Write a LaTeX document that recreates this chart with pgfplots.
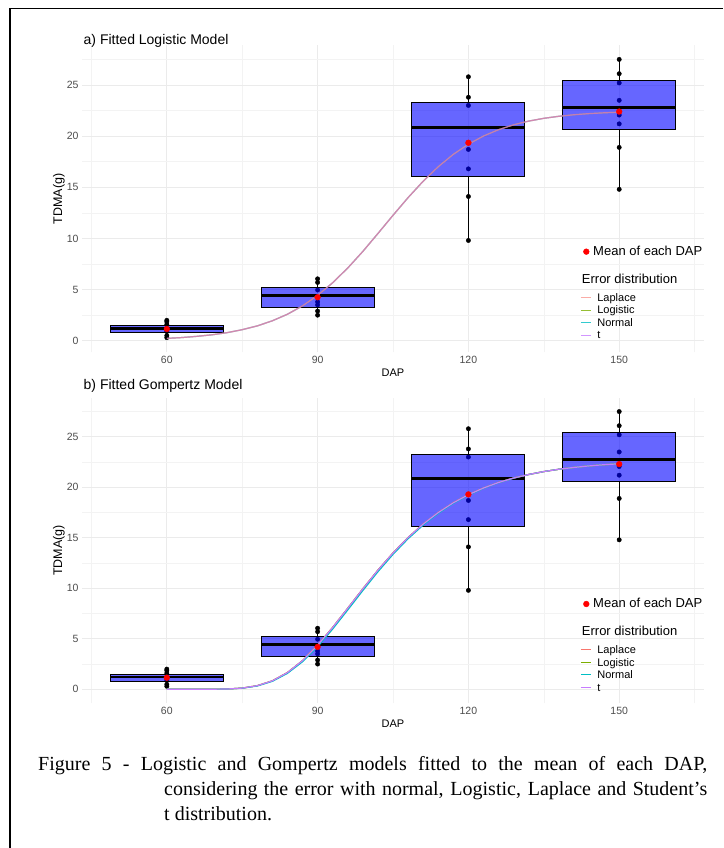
\documentclass[border=0pt]{standalone}
\usepackage{fontspec}
\setmainfont{Liberation Sans}
\newfontfamily\capfont{Liberation Serif}
\usepackage{pgfplots}
\pgfplotsset{compat=1.18}
\definecolor{tickgray}{HTML}{4D4D4D}
\definecolor{cLaplace}{HTML}{F8766D}
\definecolor{cLogistic}{HTML}{7CAE00}
\definecolor{cNormal}{HTML}{00BFC4}
\definecolor{ct}{HTML}{C77CFF}
\definecolor{gridmajor}{HTML}{EBEBEB}
\definecolor{gridminor}{HTML}{F3F3F3}

% fitted logistic curve (panel a)
\pgfplotstableread{
x y
60 0.23
63 0.31
66 0.43
69 0.58
72 0.79
75 1.08
78 1.45
81 1.95
84 2.59
87 3.41
90 4.43
93 5.67
96 7.11
99 8.73
102 10.48
105 12.26
108 13.99
111 15.59
114 17.01
117 18.22
120 19.21
123 20.01
126 20.63
129 21.11
132 21.47
135 21.74
138 21.94
141 22.09
144 22.20
147 22.28
150 22.34
}\logfit

% fitted Gompertz curve (panel b)
\pgfplotstableread{
x y
60 0.00
63 0.00
66 0.00
69 0.01
72 0.03
75 0.12
78 0.36
81 0.84
84 1.66
87 2.84
90 4.36
93 6.13
96 8.03
99 9.95
102 11.80
105 13.50
108 15.03
111 16.36
114 17.50
117 18.47
120 19.27
123 19.93
126 20.48
129 20.92
132 21.27
135 21.56
138 21.79
141 21.97
144 22.12
147 22.24
150 22.33
}\gompfit

% Gompertz curve, normal errors (slightly lower)
\pgfplotstableread{
x y
60 0.00
63 0.00
66 0.00
69 0.01
72 0.03
75 0.11
78 0.33
81 0.79
84 1.58
87 2.73
90 4.22
93 5.97
96 7.86
99 9.78
102 11.64
105 13.36
108 14.91
111 16.26
114 17.42
117 18.41
120 19.22
123 19.90
126 20.46
129 20.91
132 21.27
135 21.56
138 21.79
141 21.97
144 22.12
147 22.24
150 22.33
}\gompfitn

\pgfplotsset{
  panel/.style={
    scale only axis, width=622pt,
    xmin=43.125, xmax=166.875,
    xtick={60,90,120,150}, minor xtick={45,75,105,135,165},
    ytick={0,5,10,15,20,25}, minor ytick={2.5,7.5,12.5,17.5,22.5,27.5},
    xmajorgrids, ymajorgrids, xminorgrids, yminorgrids,
    major grid style={draw=gridmajor, line width=0.8pt},
    minor grid style={draw=gridminor, line width=0.5pt},
    axis line style={draw=none},
    major tick length=0pt, minor tick length=0pt,
    tick label style={font=\fontsize{10.5}{12}\selectfont, text=tickgray},
    /pgf/number format/assume math mode=true,
    clip marker paths=true,
  },
  labs/.style={
    xlabel={DAP}, ylabel={TDMA(g)},
    every axis x label/.style={at={(axis description cs:0.5,-0.067)}, anchor=center, font=\fontsize{11}{13}\selectfont},
    every axis y label/.style={at={(axis description cs:-0.037,0.5)}, rotate=90, anchor=center, font=\fontsize{12.5}{14}\selectfont},
    legend style={draw=none, fill=none, inner sep=0pt, font=\fontsize{11}{12}\selectfont, column sep=5pt, row sep=0pt, nodes={inner sep=1pt}},
    legend cell align=left,
    legend image code/.code={\draw[##1] (0pt,0pt) -- (10pt,0pt);},
  },
  meanlegend/.style={
    hide axis,
    legend style={draw=none, fill=none, inner sep=0pt, font=\fontsize{13}{15}\selectfont, column sep=4pt, nodes={inner sep=0pt}},
    legend image code/.code={\draw[##1] plot coordinates {(0pt,0pt)};},
  },
  bx/.style={forget plot, draw=black, line width=1pt, fill=blue, fill opacity=0.6},
  wk/.style={forget plot, black, line width=1.1pt},
  md/.style={forget plot, black, line width=2.6pt},
  pts/.style={forget plot, only marks, mark=*, mark size=2.2pt, black},
  fitline/.style={line width=1.2pt},
}

\newcommand{\drawdata}{%
  \addplot[pts] coordinates {(60,0.3) (60,0.5) (60,0.9) (60,1.2) (60,1.6) (60,1.85) (60,2.0)
    (90,2.5) (90,2.9) (90,3.5) (90,3.8) (90,4.96) (90,5.7) (90,6.05)
    (120,9.8) (120,14.1) (120,16.8) (120,18.7) (120,23.0) (120,23.8) (120,25.8)
    (150,14.8) (150,18.9) (150,21.2) (150,22.06) (150,23.5) (150,25.2) (150,26.1) (150,27.5)};
  % DAP 60
  \addplot[wk] coordinates {(60,0.3) (60,0.82)};
  \addplot[wk] coordinates {(60,1.48) (60,2.0)};
  \addplot[bx] coordinates {(48.75,0.82) (71.25,0.82) (71.25,1.48) (48.75,1.48)} --cycle;
  \addplot[md] coordinates {(48.75,1.2) (71.25,1.2)};
  % DAP 90
  \addplot[wk] coordinates {(90,2.5) (90,3.28)};
  \addplot[wk] coordinates {(90,5.2) (90,6.05)};
  \addplot[bx] coordinates {(78.75,3.28) (101.25,3.28) (101.25,5.2) (78.75,5.2)} --cycle;
  \addplot[md] coordinates {(78.75,4.42) (101.25,4.42)};
  % DAP 120
  \addplot[wk] coordinates {(120,9.8) (120,16.1)};
  \addplot[wk] coordinates {(120,23.26) (120,25.8)};
  \addplot[bx] coordinates {(108.75,16.1) (131.25,16.1) (131.25,23.26) (108.75,23.26)} --cycle;
  \addplot[md] coordinates {(108.75,20.86) (131.25,20.86)};
  % DAP 150
  \addplot[wk] coordinates {(150,14.8) (150,20.6)};
  \addplot[wk] coordinates {(150,25.39) (150,27.5)};
  \addplot[bx] coordinates {(138.75,20.6) (161.25,20.6) (161.25,25.39) (138.75,25.39)} --cycle;
  \addplot[md] coordinates {(138.75,22.78) (161.25,22.78)};
}

\begin{document}
\begin{tikzpicture}
\useasboundingbox (0,0) rectangle (723pt,848pt);
\fill[white] (0,0) rectangle (723pt,848pt);
\draw[line width=1.2pt] (10pt,0pt) -- (10pt,839.3pt) -- (723pt,839.3pt);

% ---------- panel a ----------
\begin{axis}[panel, labs, at={(82pt,495.7pt)}, anchor=south west, height=306.8pt,
  ymin=-1.13, ymax=28.86, title={a) Fitted Logistic Model},
  every axis title/.style={at={(rel axis cs:0,1)}, anchor=base west, xshift=1.5pt, yshift=0.8pt, inner sep=0pt, font=\fontsize{14}{16}\selectfont},
  legend style={at={(rel axis cs:0.8006,0.1988)}, anchor=north west}]
\drawdata
\addplot[forget plot, fitline, cLogistic, draw opacity=0.35] table[x=x,y=y] {\logfit};
\addplot[forget plot, fitline, cNormal, draw opacity=0.35] table[x=x,y=y] {\logfit};
\addplot[forget plot, fitline, ct, draw opacity=0.7] table[x=x,y=y] {\logfit};
\addplot[forget plot, fitline, cLaplace, draw opacity=0.45] table[x=x,y=y] {\logfit};
\addlegendimage{fitline, cLaplace, draw opacity=0.6}
\addlegendentry{\rule[-3pt]{0pt}{12pt}Laplace}
\addlegendimage{fitline, cLogistic, draw opacity=0.8}
\addlegendentry{\rule[-3pt]{0pt}{12pt}Logistic}
\addlegendimage{fitline, cNormal, draw opacity=0.8}
\addlegendentry{\rule[-3pt]{0pt}{12pt}Normal}
\addlegendimage{fitline, ct, draw opacity=0.8}
\addlegendentry{\rule[-3pt]{0pt}{12pt}t}
\node[anchor=west, inner sep=0pt, font=\fontsize{13}{15}\selectfont] at (rel axis cs:0.8034,0.238) {Error distribution};
\end{axis}
\begin{axis}[panel, meanlegend, at={(82pt,495.7pt)}, anchor=south west, height=306.8pt,
  ymin=-1.13, ymax=28.86,
  legend style={at={(rel axis cs:0.8058,0.328)}, anchor=west}]
\addplot[only marks, mark=*, mark size=2.9pt, red] coordinates {(60,1.15) (90,4.25) (120,19.35) (150,22.4)};
\addlegendentry{Mean of each DAP}
\end{axis}

% ---------- panel b ----------
\begin{axis}[panel, labs, at={(82pt,144.8pt)}, anchor=south west, height=305.5pt,
  ymin=-1.375, ymax=28.875, title={b) Fitted Gompertz Model},
  every axis title/.style={at={(rel axis cs:0,1)}, anchor=base west, xshift=1.5pt, yshift=8pt, inner sep=0pt, font=\fontsize{14}{16}\selectfont},
  legend style={at={(rel axis cs:0.8006,0.196)}, anchor=north west}]
\drawdata
\addplot[fitline, cLaplace] table[x=x,y=y] {\gompfit};
\addlegendentry{\rule[-3pt]{0pt}{12pt}Laplace}
\addplot[fitline, cLogistic] table[x=x,y=y] {\gompfit};
\addlegendentry{\rule[-3pt]{0pt}{12pt}Logistic}
\addplot[fitline, cNormal] table[x=x,y=y] {\gompfitn};
\addlegendentry{\rule[-3pt]{0pt}{12pt}Normal}
\addplot[fitline, ct] table[x=x,y=y] {\gompfit};
\addlegendentry{\rule[-3pt]{0pt}{12pt}t}
\node[anchor=west, inner sep=0pt, font=\fontsize{13}{15}\selectfont] at (rel axis cs:0.8034,0.2373) {Error distribution};
\end{axis}
\begin{axis}[panel, meanlegend, at={(82pt,144.8pt)}, anchor=south west, height=305.5pt,
  ymin=-1.375, ymax=28.875,
  legend style={at={(rel axis cs:0.8058,0.3247)}, anchor=west}]
\addplot[only marks, mark=*, mark size=2.9pt, red] coordinates {(60,1.15) (90,4.2) (120,19.3) (150,22.3)};
\addlegendentry{Mean of each DAP}
\end{axis}

% ---------- caption ----------
\node[anchor=base west, inner sep=0pt] at (38pt,77.5pt) {\capfont\fontsize{20}{25}\selectfont\parbox[t]{669pt}{\noindent\hangindent=126pt\hangafter=1 Figure 5 - Logistic and Gompertz models fitted to the mean of each DAP,\linebreak considering the error with normal, Logistic, Laplace and Student’s\linebreak t distribution.}};
\end{tikzpicture}
\end{document}
